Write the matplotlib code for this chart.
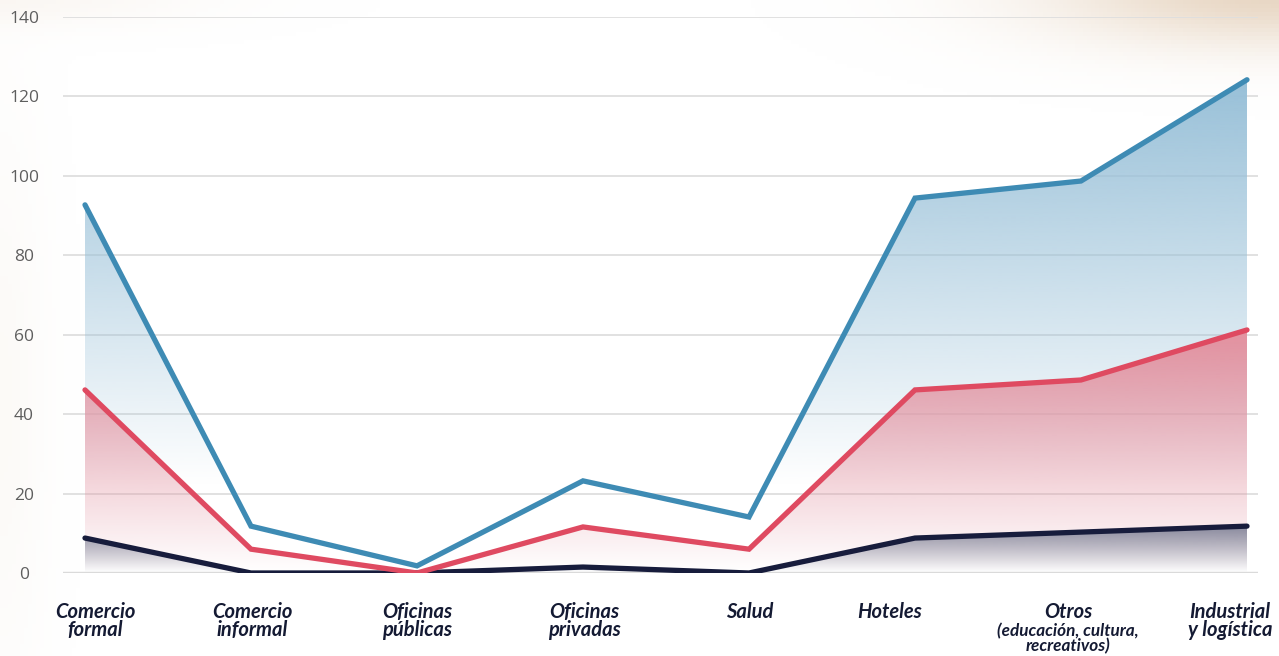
import numpy as np
import matplotlib
matplotlib.use("Agg")
import matplotlib.pyplot as plt
import matplotlib.transforms as mtransforms
from matplotlib.colors import to_rgb

# ---------------- data ----------------
categories = ["Comercio\nformal", "Comercio\ninformal", "Oficinas\npúblicas",
              "Oficinas\nprivadas", "Salud", "Hoteles", "Otros",
              "Industrial\ny logística"]
otros_sub = "(educación, cultura,\nrecreativos)"
serie_azul = [92.7, 11.8, 1.8, 23.2, 14.1, 94.4, 98.7, 124.2]
serie_roja = [46.1, 6.0, 0.0, 11.6, 6.0, 46.1, 48.6, 61.2]
serie_oscura = [8.8, 0.0, 0.0, 1.5, 0.0, 8.8, 10.3, 11.8]
yticks = [0, 20, 40, 60, 80, 100, 120, 140]

# ---------------- style ----------------
label_font = "Lato"
label_size = 14.5
sub_size = 12.3

W, H, DPI = 1279, 656, 100
fig = plt.figure(figsize=(W / DPI, H / DPI), dpi=DPI)
fig.patch.set_facecolor("white")

# soft sandy background blobs
bg = fig.add_axes([0, 0, 1, 1], zorder=-10)
bg.axis("off")
gx, gy = np.meshgrid(np.linspace(0, W, 320), np.linspace(0, H, 164))
sand = np.array(to_rgb("#e2ccb4"))
d1 = np.sqrt(((gx - 1279) / 230.0) ** 2 + ((gy - 666) / 55.0) ** 2)
d2 = np.sqrt(((gx - 0) / 45.0) ** 2 + ((gy - 250) / 300.0) ** 2)
d3 = np.sqrt(((gx - 0) / 200.0) ** 2 + ((gy - 660) / 30.0) ** 2)
a = np.clip(0.8 * np.exp(-d1 ** 2) + 0.10 * np.exp(-d2 ** 2)
            + 0.15 * np.exp(-d3 ** 2), 0, 1)
rgba = np.ones(gx.shape + (4,))
rgba[..., :3] = sand
rgba[..., 3] = a
bg.imshow(rgba, extent=[0, W, 0, H], origin="lower", aspect="auto")
bg.set_xlim(0, W)
bg.set_ylim(0, H)

ax = fig.add_axes([63 / W, 1 - 573 / H, (1258 - 63) / W, (573 - 17) / H])
ax.patch.set_alpha(0)
x = np.arange(len(categories))

for s in ax.spines.values():
    s.set_visible(False)
ax.set_yticks(yticks)
ax.grid(axis="y", color="#dedede", linewidth=1.3, zorder=0)
ax.axhline(0, color="#bdbdbd", linewidth=1.6, zorder=1)
ax.tick_params(axis="both", length=0)
ax.tick_params(axis="y", pad=28, labelsize=12.5, labelcolor="#5e5e5e")
for lab in ax.get_yticklabels():
    lab.set_horizontalalignment("center")
    lab.set_fontfamily("Open Sans")

def gradient_fill(vals, color, y_hi, y_lo, z):
    poly = ax.fill_between(x, vals, 0, color="none", linewidth=0, zorder=z)
    n = 400
    ys = np.linspace(0, 140, n)
    alpha = np.clip((ys - y_lo) / (y_hi - y_lo), 0, 1)
    img = np.zeros((n, 1, 4))
    img[..., :3] = to_rgb(color)
    img[:, 0, 3] = alpha
    im = ax.imshow(img, extent=[x[0], x[-1], 0, 140], origin="lower",
                   aspect="auto", zorder=z, interpolation="bilinear")
    im.set_clip_path(poly.get_paths()[0], transform=ax.transData)

gradient_fill(serie_azul, "#98c0d8", 124, 22, 2)
gradient_fill(serie_roja, "#e394a2", 58, 0, 3)
gradient_fill(serie_oscura, "#85879b", 12, 0, 4)

ax.set_xlim(-22 / 166, (1258 - 85) / 166)
ax.set_ylim(0, 140)

lw = 3.8
ax.plot(x, serie_oscura, color="#171c3c", lw=lw, zorder=6,
        solid_capstyle="round", solid_joinstyle="miter")
ax.plot(x, serie_azul, color="#3e8bb4", lw=lw, zorder=7,
        solid_capstyle="round", solid_joinstyle="miter")
ax.plot(x, serie_roja, color="#df4a61", lw=lw, zorder=8,
        solid_capstyle="round", solid_joinstyle="miter")

ax.set_xticks(x)
ax.set_xticklabels(categories)
ax.tick_params(axis="x", pad=21)
label_shift_px = [10, 1, 0, 1, 1, -25, -13, -17]
for lab, dx in zip(ax.get_xticklabels(), label_shift_px):
    lab.set_fontfamily(label_font)
    lab.set_fontweight("bold")
    lab.set_fontstyle("italic")
    lab.set_fontsize(label_size)
    lab.set_color("#141a33")
    lab.set_linespacing(0.88)
    lab.set_verticalalignment("top")
    lab.set_transform(lab.get_transform() +
                      mtransforms.ScaledTranslation(dx / DPI, 0, fig.dpi_scale_trans))

ax.annotate(otros_sub, xy=(x[6], 0), xycoords=("data", "axes fraction"),
            xytext=(-13, -50), textcoords="offset pixels", ha="center", va="top",
            fontsize=sub_size, fontfamily=label_font, fontweight="bold",
            fontstyle="italic", color="#141a33", linespacing=0.92,
            annotation_clip=False)

fig.savefig("out.png", dpi=DPI)
